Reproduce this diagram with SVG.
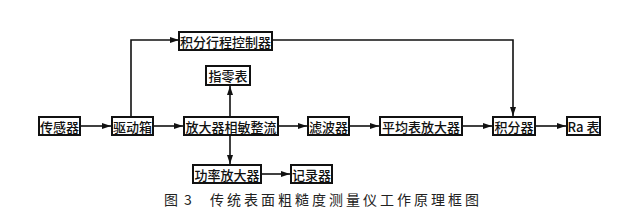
<svg xmlns="http://www.w3.org/2000/svg" width="642" height="216" viewBox="0 0 642 216">
<defs>
<marker id="ah" markerWidth="9" markerHeight="6" refX="9" refY="3" orient="auto" markerUnits="userSpaceOnUse">
<path d="M0,0 L9,3 L0,6 Z" fill="#111"/>
</marker>
<style>
.box{fill:#fff;stroke:#111;stroke-width:2}
.t{font-family:"Noto Sans CJK SC","Noto Sans",sans-serif;font-size:13px;font-weight:500;fill:#111;text-anchor:middle;dominant-baseline:central}
.ln{fill:none;stroke:#111;stroke-width:1.6;marker-end:url(#ah)}
.cap{font-family:"Noto Sans CJK SC",sans-serif;font-size:14px;fill:#222;dominant-baseline:central}
</style>
</defs>
<rect width="642" height="216" fill="#fff"/>
<g id="connectors">
<path class="ln" d="M80,126 L111,126"/>
<path class="ln" d="M153,126 L183,126"/>
<path class="ln" d="M278,126 L307,126"/>
<path class="ln" d="M349,126 L379,126"/>
<path class="ln" d="M462,126 L492,126"/>
<path class="ln" d="M535,126 L566,126"/>
<path class="ln" d="M131,117 L131,40 L179,40"/>
<path class="ln" d="M272,40 L513,40 L513,116"/>
<path class="ln" d="M230,117 L230,86"/>
<path class="ln" d="M230,135 L230,164"/>
<path class="ln" d="M261,174 L290,174"/>
</g>
<g id="n_sensor"><rect class="box" x="39" y="117" width="41" height="18"/><text class="t" x="59.5" y="126">传感器</text></g>
<g id="n_drive"><rect class="box" x="112" y="117" width="41" height="18"/><text class="t" x="132.5" y="126">驱动箱</text></g>
<g id="n_amp"><rect class="box" x="184" y="117" width="94" height="18"/><text class="t" x="231" y="126">放大器相敏整流</text></g>
<g id="n_filter"><rect class="box" x="308" y="117" width="41" height="18"/><text class="t" x="328.5" y="126">滤波器</text></g>
<g id="n_avg"><rect class="box" x="380" y="117" width="82" height="18"/><text class="t" x="421" y="126">平均表放大器</text></g>
<g id="n_integ"><rect class="box" x="493" y="117" width="42" height="18"/><text class="t" x="514" y="126">积分器</text></g>
<g id="n_ra"><rect class="box" x="567" y="117" width="33" height="18"/><text class="t" x="583.5" y="126">Ra 表</text></g>
<g id="n_ctrl"><rect class="box" x="179" y="32" width="93" height="18"/><text class="t" x="225.5" y="41">积分行程控制器</text></g>
<g id="n_zero"><rect class="box" x="206" y="66" width="44" height="19"/><text class="t" x="228" y="75.5">指零表</text></g>
<g id="n_power"><rect class="box" x="193" y="165" width="68" height="18"/><text class="t" x="227" y="174">功率放大器</text></g>
<g id="n_rec"><rect class="box" x="291" y="165" width="41" height="18"/><text class="t" x="311.5" y="174">记录器</text></g>
<text class="cap" x="164" y="199">图</text>
<text class="cap" x="184" y="199">3</text>
<text class="cap" x="210" y="199" letter-spacing="3">传统表面粗糙度测量仪工作原理框图</text>
</svg>
